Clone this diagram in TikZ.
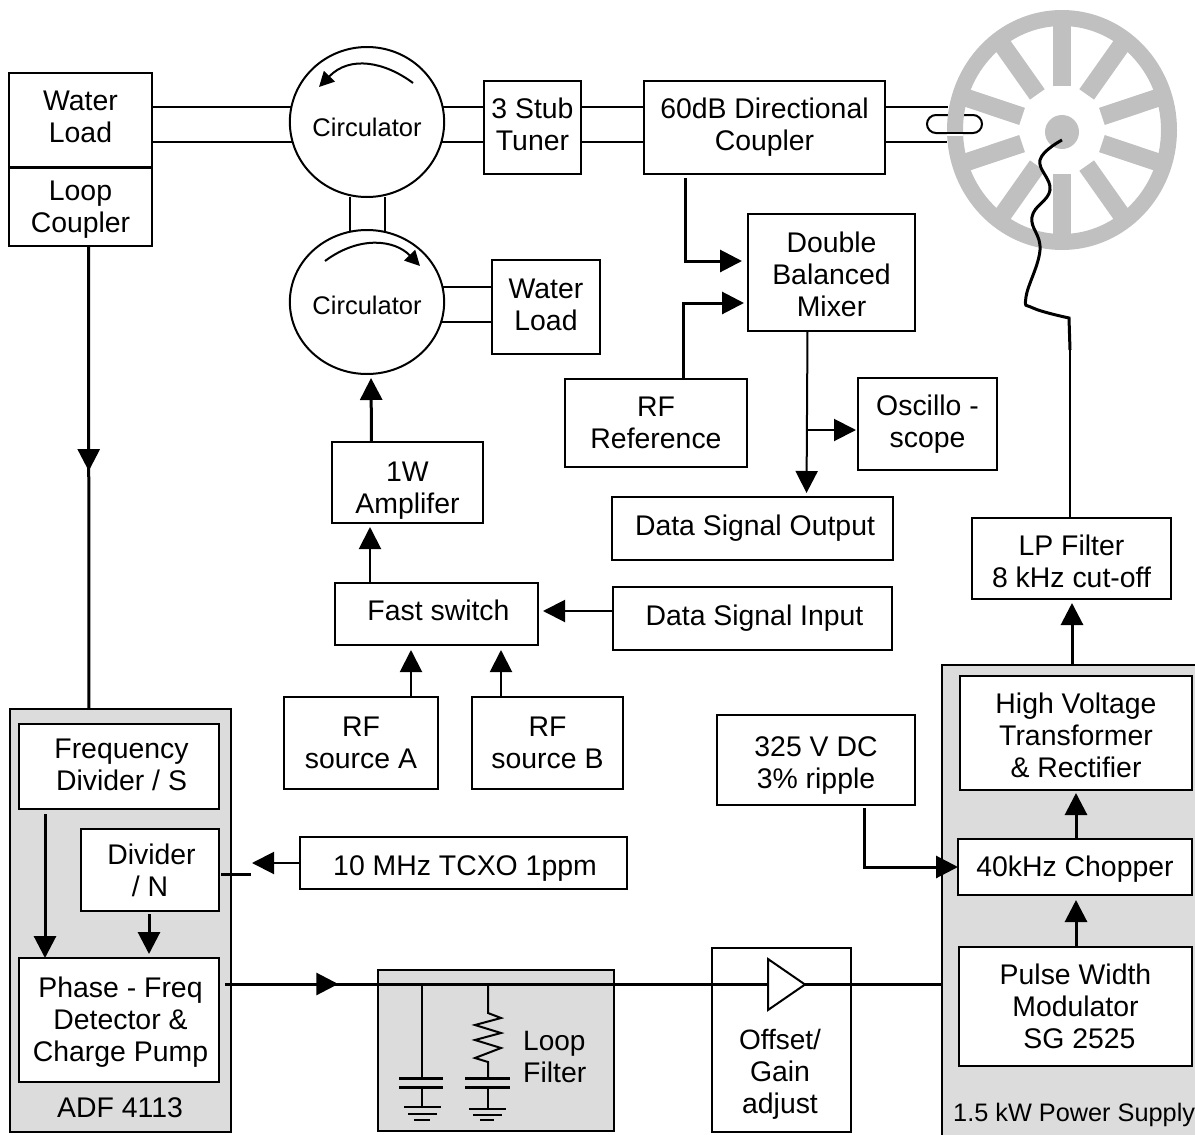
\documentclass[tikz,border=0pt]{standalone}
\usepackage{fontspec}
\setmainfont{Liberation Sans}
\usetikzlibrary{arrows.meta,decorations.markings,shapes.geometric}
\definecolor{panelgrey}{HTML}{DCDCDC}
\definecolor{wheelgrey}{HTML}{C0C0C0}
\newcommand{\boxdrop}[1]{\rule{0pt}{#1pt}}
\newcommand{\boxlift}[1]{\rule[-#1pt]{0pt}{0pt}}
\tikzset{
    box/.style={draw, fill=white, line width=2pt, inner sep=0pt, outer sep=0pt, align=center},
    panel/.style={draw, fill=panelgrey, line width=2pt, inner sep=0pt, outer sep=0pt},
    circulator/.style={draw, fill=white, ellipse, line width=2pt, inner sep=0pt, outer sep=0pt, font=\fontsize{25.5}{30}\selectfont},
    wire/.style={line width=2pt},
    heavy/.style={line width=3pt},
    bigtip/.style={-{Triangle[length=22pt,width=22pt]}},
    midtip/.style={decoration={markings, mark=at position #1 with {\arrow{Triangle[length=22pt,width=22pt]}}}, postaction={decorate}},
}
\begin{document}
\begin{tikzpicture}[x=1pt, y=-1pt, every node/.style={font=\fontsize{28.4}{32}\selectfont}]
    \useasboundingbox (0,0) rectangle (1195,1135);

    % grey panels
    \node[panel, minimum width=221pt, minimum height=423pt] (adf) at (120.5,920.5) {};
    \node[panel, minimum width=236pt, minimum height=161pt] (loopfilter) at (496,1050.5) {};
    \node[panel, minimum width=260pt, minimum height=480pt] (supply) at (1072,905) {};
    \node[inner sep=0pt] (adflabel) at (120,1108) {ADF 4113};
    \node[inner sep=0pt, anchor=west, font=\fontsize{25.3}{30}\selectfont] (supplylabel) at (953,1115) {1.5 kW Power Supply};

    % coupling loop, top side goes behind the wheel
    \draw[wire, rounded corners=9pt] (955,115) -- (982,115) -- (982,133) -- (955,133);
    \draw[wire, rounded corners=9pt] (955,115) -- (927,115) -- (927,133) -- (955,133);

    % wheel
    \draw[wheelgrey, line width=16pt] (1062,130) ellipse (107pt and 112pt);
    \foreach \ang in {18,54,...,342} {
        \draw[wheelgrey, line width=18pt] ({1062+42*cos(\ang)},{130-44*sin(\ang)}) -- ({1062+110*cos(\ang)},{130-114*sin(\ang)});
    }
    \node[circle, fill=wheelgrey, minimum size=34pt, inner sep=0pt] (hub) at (1062,132) {};
    \draw[white, line width=2pt] (947,135) -- (963,135);
    \draw[wire] (946,133) -- (964,133);

    % top row
    \node[box, minimum width=143pt, minimum height=94pt] (waterA) at (80.5,120) {Water\\Load\boxlift{6}};
    \node[box, minimum width=143pt, minimum height=78pt] (loopcoupler) at (80.5,207) {\boxdrop{24}Loop\\Coupler};
    \node[circulator, minimum width=154pt, minimum height=150pt] (circA) at (367,122) {\boxdrop{28.5}Circulator};
    \node[circulator, minimum width=154pt, minimum height=144pt] (circB) at (367,302) {\boxdrop{24.5}Circulator};
    \node[box, minimum width=97pt, minimum height=93pt] (tuner) at (532.5,127.5) {3 Stub\\Tuner\boxlift{6}};
    \node[box, minimum width=241pt, minimum height=93pt] (coupler) at (764.5,127.5) {60dB Directional\\Coupler};
    \node[box, minimum width=108pt, minimum height=94pt] (waterB) at (546,307) {Water\\Load\boxlift{5}};

    % middle
    \node[box, minimum width=167pt, minimum height=117pt] (mixer) at (831.5,272.5) {\boxdrop{24}Double\\Balanced\\Mixer};
    \node[box, minimum width=182pt, minimum height=88pt] (rfref) at (656,423) {RF\\Reference};
    \node[box, minimum width=139pt, minimum height=92pt] (scope) at (927.5,424) {Oscillo -\\scope};
    \node[box, minimum width=281pt, minimum height=63pt] (dataout) at (752.5,528.5) {\hspace*{5pt}Data Signal Output};
    \node[box, minimum width=279pt, minimum height=63pt] (datain) at (752.5,618.5) {\hspace*{4pt}Data Signal Input};
    \node[box, minimum width=199pt, minimum height=81pt] (lpfilter) at (1071.5,558.5) {\boxdrop{26}LP Filter\\8 kHz cut-off};
    \node[box, minimum width=151pt, minimum height=81pt] (amp) at (407.5,482.5) {\boxdrop{36}1W\\Amplifer};
    \node[box, minimum width=203pt, minimum height=62pt] (switch) at (436.5,614) {\hspace*{4pt}Fast switch\boxlift{8}};
    \node[box, minimum width=154pt, minimum height=92pt] (srcA) at (361,743) {RF\\source A};
    \node[box, minimum width=151pt, minimum height=92pt] (srcB) at (547.5,743) {RF\\source B};

    % lower part
    \node[box, minimum width=198pt, minimum height=90pt] (dcin) at (816,760) {\boxdrop{30}325 V DC\\3\% ripple};
    \node[box, minimum width=327pt, minimum height=52pt] (tcxo) at (463.5,863) {\boxdrop{30}\hspace*{3pt}10 MHz TCXO 1ppm};
    \node[box, minimum width=200pt, minimum height=85pt] (freqdiv) at (119,766.5) {\hspace*{5pt}Frequency\\\hspace*{5pt}Divider / S\boxlift{4.5}};
    \node[box, minimum width=138pt, minimum height=82pt] (divn) at (150,870) {\hspace*{3pt}Divider\\/ N};
    \node[box, minimum width=200pt, minimum height=124pt] (detector) at (119,1020) {\boxdrop{24}\hspace*{3pt}Phase - Freq\\\hspace*{3pt}Detector \&\\\hspace*{3pt}Charge Pump};
    \node[box, minimum width=232pt, minimum height=114pt] (hvt) at (1076,733) {\boxdrop{26}High Voltage\\Transformer\\\& Rectifier};
    \node[box, minimum width=234pt, minimum height=56pt] (chopper) at (1075,867) {\boxdrop{24}40kHz Chopper};
    \node[box, minimum width=233pt, minimum height=119pt] (pwm) at (1075.5,1006.5) {Pulse Width\\Modulator\\\hspace*{8pt}SG 2525};
    \node[box, minimum width=139pt, minimum height=184pt] (offset) at (781.5,1040) {};
    \node[align=center, inner sep=0pt] (offsettext) at (780,1074) {\fontsize{28}{33}\selectfont Offset/\\Gain\\adjust};

    % waveguide pairs
    \draw[wire] (waterA.east |- 0,107) -- (291,107);
    \draw[wire] (waterA.east |- 0,142) -- (293,142);
    \draw[wire] (tuner.west |- 0,107) -- (442,107);
    \draw[wire] (tuner.west |- 0,142) -- (441,142);
    \draw[wire] (tuner.east |- 0,107) -- (coupler.west |- 0,107);
    \draw[wire] (tuner.east |- 0,142) -- (coupler.west |- 0,142);
    \draw[wire] (coupler.east |- 0,107) -- (948,107);
    \draw[wire] (coupler.east |- 0,142) -- (947,142);
    \draw[wire] ([xshift=-17pt]circA.south) -- ([xshift=-17pt,yshift=-2pt]circB.north);
    \draw[wire] ([xshift=18pt]circA.south) -- ([xshift=18pt,yshift=-2pt]circB.north);
    \draw[wire] (443,287) -- (waterB.west |- 0,287);
    \draw[wire] (441,322) -- (waterB.west |- 0,322);

    % circulator direction
    \draw[wire, -{Triangle[length=15pt,width=15pt]}] (413,83) .. controls (385,62) and (350,55) .. (319,87);
    \draw[wire, -{Triangle[length=15pt,width=15pt]}] (325,261) .. controls (360,235) and (395,240) .. (420,266);

    % arrows
    \draw[heavy, midtip=0.486] ([xshift=8pt]loopcoupler.south) -- (adf.north -| 89,0);
    \draw[heavy, bigtip, shorten <=4pt, shorten >=6pt] ([xshift=-79pt]coupler.south) |- (mixer.west |- 0,261);
    \draw[heavy, bigtip, shorten >=4pt] ([xshift=27pt]rfref.north) |- (mixer.west |- 0,303);
    \draw[wire, bigtip, shorten >=4pt] ([xshift=-24pt]mixer.south) -- ([xshift=54pt]dataout.north);
    \draw[wire, bigtip, shorten >=2pt] (807,430) -- (scope.west |- 0,430);
    \draw[heavy, bigtip, shorten >=4pt] ([xshift=-36pt]amp.north) -- ([xshift=4pt]circB.south);
    \draw[wire, bigtip, shorten >=4pt] (switch.north -| 370,0) -- (amp.south -| 370,0);
    \draw[wire, bigtip, shorten >=5pt] (srcA.north -| 411,0) -- (switch.south -| 411,0);
    \draw[wire, bigtip, shorten >=5pt] (srcB.north -| 501,0) -- (switch.south -| 501,0);
    \draw[wire, bigtip, shorten >=5pt] (datain.west |- 0,611) -- (switch.east |- 0,611);
    \draw[heavy, bigtip, shorten >=4pt] (supply.north -| 1072,0) -- (lpfilter.south -| 1072,0);
    \draw[heavy, bigtip, shorten >=3pt] (chopper.north -| 1076,0) -- (hvt.south -| 1076,0);
    \draw[heavy, bigtip, shorten >=5pt] (pwm.north -| 1076,0) -- (chopper.south -| 1076,0);
    \draw[heavy, bigtip, shorten <=3pt] ([xshift=48pt]dcin.south) |- (chopper.west);
    \draw[wire, bigtip, shorten >=33pt] (tcxo.west) -- (divn.east |- tcxo.west);
    \draw[heavy] ([xshift=2pt,yshift=-4pt]divn.east) -- ([xshift=32pt,yshift=-4pt]divn.east);
    \draw[heavy, bigtip, shorten <=5pt] (freqdiv.south -| 45,0) -- (detector.north -| 45,0);
    \draw[heavy, bigtip, shorten <=3pt, shorten >=4pt] (divn.south -| 149,0) -- (detector.north -| 149,0);

    % main line through the filter and the offset stage
    \draw[heavy, midtip=0.165, shorten <=6pt] (detector.east |- 0,984) -- (supply.west |- 0,984);
    \node[draw, fill=white, isosceles triangle, isosceles triangle stretches, line width=2pt, inner sep=0pt, minimum width=51pt, minimum height=37pt, anchor=lower side] (gain) at (767,984.5) {};

    % loop filter parts
    \draw[wire] (422,984) -- (422,1078);
    \draw[heavy] (399,1078) -- (443,1078);
    \draw[heavy] (399,1087) -- (443,1087);
    \draw[wire] (422,1087) -- (422,1107);
    \draw[wire] (404,1107) -- (441,1107) (408,1114) -- (437,1114) (414,1120) -- (430,1120);
    \draw[wire] (488,984) -- (488,1013) -- (501,1018) -- (475,1025) -- (501,1033) -- (475,1040) -- (501,1048) -- (475,1058) -- (488,1062) -- (488,1078);
    \draw[heavy] (465,1078) -- (510,1078);
    \draw[heavy] (465,1087) -- (510,1087);
    \draw[wire] (488,1087) -- (488,1109);
    \draw[wire] (469,1109) -- (506,1109) (473,1115) -- (502,1115) (480,1120) -- (494,1120);
    \node[anchor=west, inner sep=0pt, align=left] (looptext) at (523,1057) {\fontsize{28}{32}\selectfont Loop\\Filter};

    % wavy feed
    \draw[heavy] plot[smooth, tension=0.7] coordinates {([yshift=-8pt]hub.center) (1040,160) (1050,190) (1032,217) (1040,250) (1026,297) (1033,308) (1069,318)} -- (1070,350);
    \draw[wire] (lpfilter.north -| 1070,0) -- (1070,350);
\end{tikzpicture}
\end{document}
